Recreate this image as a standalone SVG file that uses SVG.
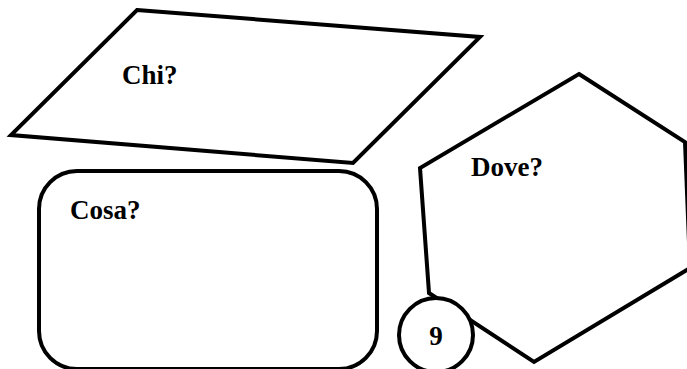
<svg xmlns="http://www.w3.org/2000/svg" width="687" height="369" viewBox="0 0 687 369">
  <style>
    .shape { fill: #ffffff; stroke: #000000; stroke-width: 4; stroke-linejoin: miter; }
    .label { font-family: "Liberation Serif", "DejaVu Serif", serif; font-weight: bold; font-size: 27px; fill: #000000; }
  </style>
  <rect width="687" height="369" fill="#ffffff"/>
  <g id="connectors"></g>
  <g id="node-chi">
    <polygon class="shape" points="137,10 480,37 353,163 11,135"/>
    <text class="label" x="122" y="84">Chi?</text>
  </g>
  <g id="node-cosa">
    <rect class="shape" x="39" y="171" width="338" height="198" rx="38" ry="38"/>
    <text class="label" x="70" y="219">Cosa?</text>
  </g>
  <g id="node-dove">
    <polygon class="shape" points="579,74 685,142 690,268 534,362 429,293 420,168"/>
    <text class="label" x="471" y="176">Dove?</text>
  </g>
  <g id="node-9">
    <circle class="shape" cx="436" cy="335" r="37"/>
    <text class="label" x="436" y="345" text-anchor="middle">9</text>
  </g>
</svg>
